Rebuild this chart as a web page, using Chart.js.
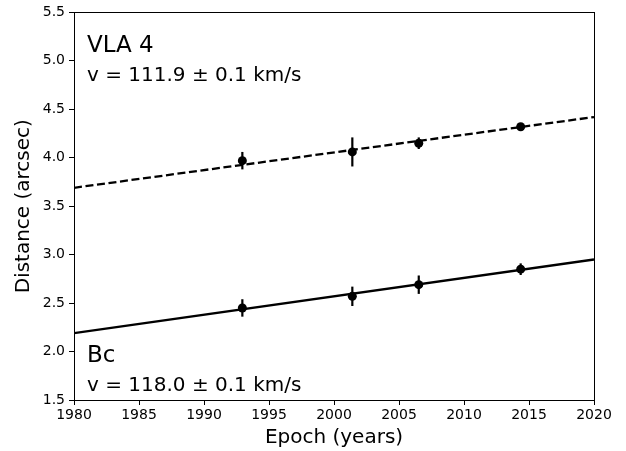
<!DOCTYPE html>
<html lang="en">
<head>
<meta charset="utf-8" />
<title>Proper motion fits</title>
<script src="https://cdn.jsdelivr.net/npm/chart.js@4.4.1/dist/chart.umd.min.js"></script>
<style>
  html, body { margin: 0; padding: 0; background: #fff; }
  #wrap { width: 626px; height: 451px; }
</style>
</head>
<body>
<div id="wrap"><canvas id="chart" width="626" height="451"></canvas></div>
<script>
const epochs = [1992.95, 2001.41, 2006.52, 2014.36];
const vla4Dist = [3.97, 4.06, 4.15, 4.32];
const vla4Err = [0.09, 0.15, 0.06, 0.03];
const bcDist = [2.45, 2.57, 2.69, 2.85];
const bcErr = [0.09, 0.10, 0.095, 0.06];

// linear fits, evaluated at the plot edges
const fitEpochs = [1980, 2020];
const vla4Fit = [3.69, 4.42];
const bcFit = [2.19, 2.95];

const xTicks = [1980, 1985, 1990, 1995, 2000, 2005, 2010, 2015, 2020];
const yTicks = [1.5, 2.0, 2.5, 3.0, 3.5, 4.0, 4.5, 5.0, 5.5];

const labelTop = ['VLA 4', 'v = 111.9 \u00b1 0.1 km/s'];
const labelBottom = ['Bc', 'v = 118.0 \u00b1 0.1 km/s'];

const FONT = "'DejaVu Sans', sans-serif";

function pts(xs, ys) { return xs.map((x, i) => ({ x: x, y: ys[i] })); }

const errorBars = {
  id: 'errorBars',
  beforeDatasetsDraw(chart) {
    const { ctx, scales: { x, y } } = chart;
    ctx.save();
    ctx.strokeStyle = '#000';
    ctx.lineWidth = 2.2;
    [[vla4Dist, vla4Err], [bcDist, bcErr]].forEach(([vals, errs]) => {
      epochs.forEach((e, i) => {
        const px = x.getPixelForValue(e);
        ctx.beginPath();
        ctx.moveTo(px, y.getPixelForValue(vals[i] - errs[i]));
        ctx.lineTo(px, y.getPixelForValue(vals[i] + errs[i]));
        ctx.stroke();
      });
    });
    ctx.restore();
  }
};

const frameAndText = {
  id: 'frameAndText',
  afterDraw(chart) {
    const { ctx, chartArea: a } = chart;
    ctx.save();
    ctx.strokeStyle = '#000';
    ctx.lineWidth = 1;
    ctx.strokeRect(Math.round(a.left) + 0.5, Math.round(a.top) + 0.5,
      Math.round(a.right - a.left), Math.round(a.bottom - a.top));

    ctx.fillStyle = '#000';
    ctx.textAlign = 'left';
    ctx.textBaseline = 'alphabetic';
    const lx = a.left + 13;
    ctx.font = '23px ' + FONT;
    ctx.fillText(labelTop[0], lx, a.top + 40);
    ctx.fillText(labelBottom[0], lx, a.bottom - 38);
    ctx.font = '20px ' + FONT;
    ctx.fillText(labelTop[1], lx, a.top + 69);
    ctx.fillText(labelBottom[1], lx, a.bottom - 9);
    ctx.restore();
  }
};

new Chart(document.getElementById('chart'), {
  type: 'scatter',
  data: {
    datasets: [
      {
        data: pts(fitEpochs, vla4Fit), showLine: true, borderColor: '#000',
        borderWidth: 2.3, borderDash: [8, 3.6], pointRadius: 0
      },
      {
        data: pts(fitEpochs, bcFit), showLine: true, borderColor: '#000',
        borderWidth: 2.3, pointRadius: 0
      },
      {
        data: pts(epochs, vla4Dist), backgroundColor: '#000', borderColor: '#000',
        pointRadius: 4.5, borderWidth: 0
      },
      {
        data: pts(epochs, bcDist), backgroundColor: '#000', borderColor: '#000',
        pointRadius: 4.5, borderWidth: 0
      }
    ]
  },
  options: {
    responsive: false,
    animation: false,
    events: [],
    layout: { padding: { left: 0, right: 32, top: 12, bottom: 0 } },
    plugins: { legend: { display: false }, tooltip: { enabled: false } },
    scales: {
      x: {
        type: 'linear', min: 1980, max: 2020,
        afterFit(s) { s.height = 51; },
        afterBuildTicks(s) { s.ticks = xTicks.map(v => ({ value: v })); },
        grid: { drawOnChartArea: false, drawTicks: true, tickLength: 5, color: '#000' },
        border: { display: false },
        ticks: { color: '#000', padding: 2, maxRotation: 0, font: { family: FONT, size: 14 },
          callback: v => String(v) },
        title: { display: true, text: 'Epoch (years)', color: '#000', padding: { bottom: 1 },
          font: { family: FONT, size: 20 } }
      },
      y: {
        type: 'linear', min: 1.5, max: 5.5,
        afterFit(s) { s.width = 74; },
        afterBuildTicks(s) { s.ticks = yTicks.map(v => ({ value: v })); },
        grid: { drawOnChartArea: false, drawTicks: true, tickLength: 5, color: '#000' },
        border: { display: false },
        ticks: { color: '#000', padding: 4, font: { family: FONT, size: 14 },
          callback: v => v.toFixed(1) },
        title: { display: true, text: 'Distance (arcsec)', color: '#000', padding: { top: 12 },
          font: { family: FONT, size: 20 } }
      }
    }
  },
  plugins: [errorBars, frameAndText]
});
</script>
</body>
</html>
